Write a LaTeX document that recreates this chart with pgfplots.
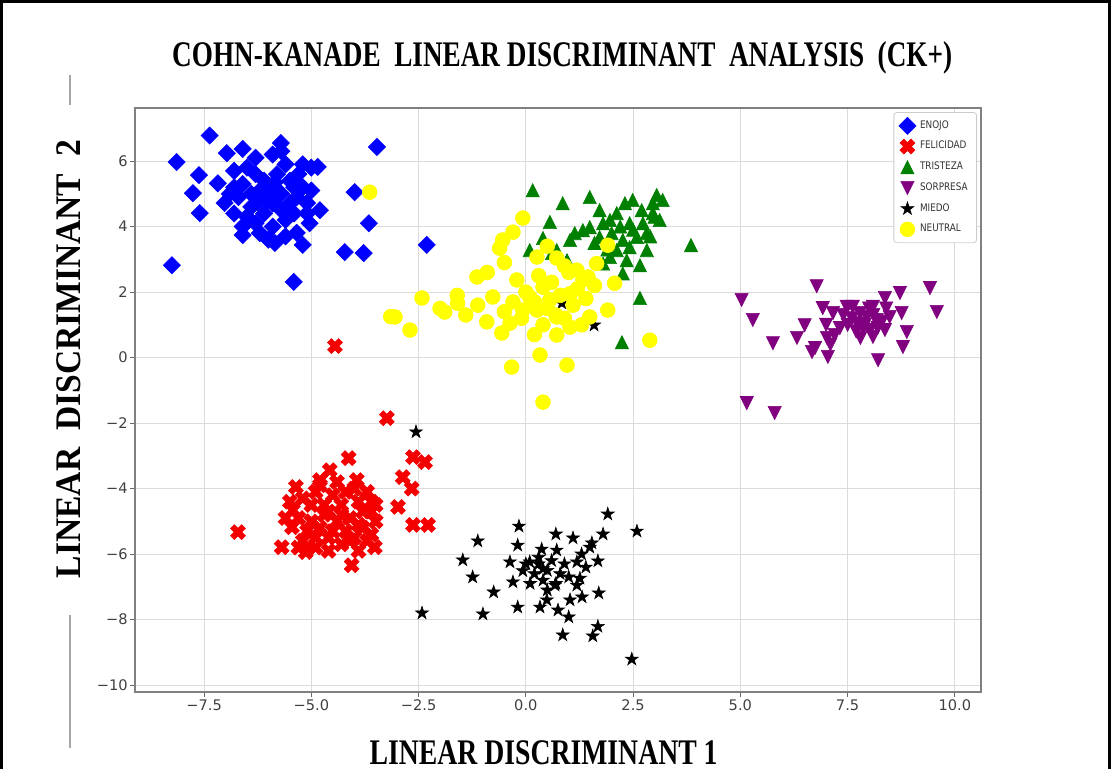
\documentclass[border=0pt]{standalone}
\usepackage{fontspec}
\setmainfont{Liberation Serif}
\newfontfamily\tickfont{DejaVu Sans}
\newfontfamily\legfont[FakeStretch=0.85]{DejaVu Sans}
\usepackage{graphicx}
\usepackage{pgfplots}
\usepackage{pgfplotstable}
\pgfplotsset{compat=1.18}

\definecolor{cblue}{RGB}{0,0,255}
\definecolor{cred}{RGB}{245,0,0}
\definecolor{cgreen}{RGB}{0,128,0}
\definecolor{cpurple}{RGB}{128,0,128}
\definecolor{cyellow}{RGB}{255,255,0}

% matplotlib-like filled markers
\pgfdeclareplotmark{Dmark}{%
  \pgfpathmoveto{\pgfqpoint{0pt}{\pgfplotmarksize}}%
  \pgfpathlineto{\pgfqpoint{\pgfplotmarksize}{0pt}}%
  \pgfpathlineto{\pgfqpoint{0pt}{-\pgfplotmarksize}}%
  \pgfpathlineto{\pgfqpoint{-\pgfplotmarksize}{0pt}}%
  \pgfpathclose\pgfusepathqfillstroke}
\pgfdeclareplotmark{Xfill}{%
  \pgfpathmoveto{\pgfqpoint{0pt}{0.495\pgfplotmarksize}}%
  \pgfpathlineto{\pgfqpoint{-0.46\pgfplotmarksize}{0.955\pgfplotmarksize}}%
  \pgfpathlineto{\pgfqpoint{-0.955\pgfplotmarksize}{0.46\pgfplotmarksize}}%
  \pgfpathlineto{\pgfqpoint{-0.495\pgfplotmarksize}{0pt}}%
  \pgfpathlineto{\pgfqpoint{-0.955\pgfplotmarksize}{-0.46\pgfplotmarksize}}%
  \pgfpathlineto{\pgfqpoint{-0.46\pgfplotmarksize}{-0.955\pgfplotmarksize}}%
  \pgfpathlineto{\pgfqpoint{0pt}{-0.495\pgfplotmarksize}}%
  \pgfpathlineto{\pgfqpoint{0.46\pgfplotmarksize}{-0.955\pgfplotmarksize}}%
  \pgfpathlineto{\pgfqpoint{0.955\pgfplotmarksize}{-0.46\pgfplotmarksize}}%
  \pgfpathlineto{\pgfqpoint{0.495\pgfplotmarksize}{0pt}}%
  \pgfpathlineto{\pgfqpoint{0.955\pgfplotmarksize}{0.46\pgfplotmarksize}}%
  \pgfpathlineto{\pgfqpoint{0.46\pgfplotmarksize}{0.955\pgfplotmarksize}}%
  \pgfpathclose\pgfusepathqfillstroke}
\pgfdeclareplotmark{triup}{%
  \pgfpathmoveto{\pgfqpoint{0pt}{\pgfplotmarksize}}%
  \pgfpathlineto{\pgfqpoint{-\pgfplotmarksize}{-\pgfplotmarksize}}%
  \pgfpathlineto{\pgfqpoint{\pgfplotmarksize}{-\pgfplotmarksize}}%
  \pgfpathclose\pgfusepathqfillstroke}
\pgfdeclareplotmark{tridown}{%
  \pgfpathmoveto{\pgfqpoint{0pt}{-\pgfplotmarksize}}%
  \pgfpathlineto{\pgfqpoint{-\pgfplotmarksize}{\pgfplotmarksize}}%
  \pgfpathlineto{\pgfqpoint{\pgfplotmarksize}{\pgfplotmarksize}}%
  \pgfpathclose\pgfusepathqfillstroke}
\pgfdeclareplotmark{starfill}{%
  \pgfpathmoveto{\pgfqpoint{0pt}{\pgfplotmarksize}}%
  \pgfpathlineto{\pgfqpoint{-0.2245\pgfplotmarksize}{0.309\pgfplotmarksize}}%
  \pgfpathlineto{\pgfqpoint{-0.9511\pgfplotmarksize}{0.309\pgfplotmarksize}}%
  \pgfpathlineto{\pgfqpoint{-0.3633\pgfplotmarksize}{-0.118\pgfplotmarksize}}%
  \pgfpathlineto{\pgfqpoint{-0.5878\pgfplotmarksize}{-0.809\pgfplotmarksize}}%
  \pgfpathlineto{\pgfqpoint{0pt}{-0.382\pgfplotmarksize}}%
  \pgfpathlineto{\pgfqpoint{0.5878\pgfplotmarksize}{-0.809\pgfplotmarksize}}%
  \pgfpathlineto{\pgfqpoint{0.3633\pgfplotmarksize}{-0.118\pgfplotmarksize}}%
  \pgfpathlineto{\pgfqpoint{0.9511\pgfplotmarksize}{0.309\pgfplotmarksize}}%
  \pgfpathlineto{\pgfqpoint{0.2245\pgfplotmarksize}{0.309\pgfplotmarksize}}%
  \pgfpathclose\pgfusepathqfillstroke}

\pgfplotstableread{
x y
-7.37 6.78
-8.14 5.97
-8.25 2.82
-3.47 6.43
-5.71 6.55
-6.60 6.37
-6.97 6.24
-4.85 5.82
-7.62 5.57
-7.76 5.02
-7.60 4.41
-7.02 4.72
-7.18 5.32
-3.99 5.05
-3.66 4.10
-2.31 3.44
-4.22 3.22
-3.78 3.19
-5.41 2.31
-6.60 3.74
-5.85 3.50
-5.20 3.44
-5.04 4.10
-5.34 3.81
-5.10 4.72
-5.34 4.90
-6.5 5.8
-6.3 5.6
-6.1 5.4
-5.9 5.2
-5.7 5.0
-5.5 4.7
-5.4 4.4
-6.6 5.3
-6.8 5.7
-5.6 5.9
-5.8 5.6
-6.0 5.2
-6.2 4.9
-6.4 4.6
-6.5 4.3
-6.3 4.1
-6.1 4.4
-5.9 4.7
-5.7 4.5
-6.0 4.8
-6.2 5.1
-5.8 4.9
-6.4 5.0
-6.7 4.9
-5.5 5.4
-5.3 5.6
-5.2 5.9
-5.0 5.8
-6.9 5.0
-6.8 4.4
-5.6 4.2
-5.9 4.0
-6.2 3.8
-6.0 3.6
-5.6 3.7
-5.1 4.4
-6.6 4.0
-5.4 5.2
-6.3 6.1
-5.9 6.2
-5.7 6.3
-5.0 5.1
-4.8 4.5
-5.2 5.2
-6.8 5.2
-6.05 5.0
-5.95 4.9
-6.15 5.15
-5.85 5.35
-6.25 4.75
}\enojo

\pgfplotstableread{
x y
-4.45 0.35
-3.24 -1.85
-6.71 -5.33
-4.13 -3.07
-4.57 -3.44
-3.94 -3.74
-5.36 -3.95
-4.80 -3.74
-2.63 -3.04
-2.35 -3.19
-2.87 -3.65
-2.66 -4.00
-2.98 -4.56
-2.63 -5.11
-2.28 -5.11
-5.69 -5.79
-5.13 -5.94
-4.06 -6.34
-3.52 -5.79
-5.45 -5.18
-5.43 -4.66
-5.2 -4.3
-5.0 -4.5
-4.9 -4.1
-4.7 -4.8
-4.5 -4.2
-4.3 -4.5
-4.1 -4.9
-3.9 -4.4
-3.7 -4.1
-3.6 -4.7
-3.8 -5.2
-4.0 -5.5
-4.2 -5.3
-4.4 -5.0
-4.6 -5.5
-4.8 -5.2
-5.0 -5.0
-5.2 -5.6
-4.9 -5.8
-4.6 -5.9
-4.3 -5.7
-3.9 -5.9
-3.6 -5.4
-3.5 -5.0
-3.6 -4.4
-4.0 -4.0
-4.4 -3.8
-4.8 -3.9
-5.3 -4.9
-5.5 -4.4
-4.7 -4.5
-4.2 -4.1
-3.8 -4.7
-4.1 -5.6
-4.5 -5.3
-5.1 -5.3
-3.7 -5.6
-4.3 -4.8
-4.9 -5.5
-3.9 -5.1
-4.6 -4.7
-3.5 -4.5
-5.6 -4.9
-5.3 -5.8
}\felicidad

\pgfplotstableread{
x y
0.16 5.11
0.86 4.71
1.49 4.90
0.56 4.14
0.40 3.65
0.96 2.97
0.09 3.28
0.61 3.19
1.14 3.80
1.33 3.89
1.72 4.50
1.96 4.20
2.31 4.71
2.49 4.81
3.05 4.96
3.19 4.81
2.96 4.41
3.12 4.20
2.82 3.80
2.59 3.68
2.26 3.59
2.12 3.28
2.35 2.97
2.66 2.82
2.26 2.57
1.80 2.87
2.66 1.82
2.24 0.47
3.85 3.43
1.72 3.68
1.49 3.98
1.80 4.10
2.12 4.41
2.42 4.10
2.73 4.10
1.03 3.59
0.72 3.28
1.96 3.07
2.96 4.71
2.42 3.37
2.82 3.28
2.0 3.8
2.2 4.0
1.6 3.5
2.5 3.9
2.9 3.7
3.0 4.3
2.7 4.5
1.9 3.3
}\tristeza

\pgfplotstableread{
x y
5.03 1.76
5.29 1.15
5.76 0.44
5.15 -1.39
5.80 -1.69
6.32 0.60
6.50 0.99
6.78 2.18
6.67 0.17
7.04 0.02
6.92 1.51
7.02 0.60
7.16 1.36
7.32 0.90
7.48 1.55
7.62 1.55
7.72 1.05
7.95 1.24
8.09 1.55
8.37 1.82
8.72 1.97
8.76 1.36
8.88 0.78
8.79 0.32
8.21 -0.08
9.42 2.12
9.58 1.39
8.37 0.84
8.09 0.63
7.86 0.90
8.18 1.15
8.48 1.24
7.79 1.36
8.02 0.84
7.20 0.69
6.74 0.29
7.7 0.8
7.9 1.0
8.1 1.3
8.3 1.1
7.6 1.2
8.0 1.5
7.5 1.0
8.2 0.9
7.4 1.3
7.8 0.6
8.4 1.5
7.0 1.0
7.1 0.4
}\sorpresa

\pgfplotstableread{
x y
1.91 -4.78
2.59 -5.30
-0.16 -5.15
-1.12 -5.60
-1.47 -6.18
-1.24 -6.70
-0.75 -7.16
-1.00 -7.83
-0.19 -7.62
-0.30 -6.85
-0.37 -6.24
-0.19 -5.73
0.70 -5.39
1.10 -5.51
1.80 -5.39
1.54 -5.66
1.68 -6.21
1.70 -7.19
1.68 -8.21
1.56 -8.50
0.86 -8.47
1.00 -7.92
0.75 -7.71
0.33 -7.62
0.49 -7.40
1.03 -7.40
1.31 -7.31
2.47 -9.21
1.26 -6.74
1.19 -6.95
0.68 -6.95
0.72 -5.88
0.37 -5.85
1.19 -6.24
1.49 -5.79
-0.07 -6.51
0.09 -6.24
0.3 -6.3
0.5 -6.5
0.2 -6.6
0.4 -6.8
0.6 -6.2
0.8 -6.6
0.1 -6.9
0.7 -6.9
0.9 -6.3
0.3 -6.1
0.5 -7.1
1.0 -6.7
1.4 -6.4
1.3 -6.0
0.0 -6.3
0.4 -6.45
-2.42 -7.80
-2.56 -2.27
1.59 0.99
0.84 1.66
}\miedo

\pgfplotstableread{
x y
-0.07 4.26
-0.30 3.83
-0.54 3.59
-0.61 3.34
1.91 3.43
0.26 3.07
0.72 3.04
1.19 2.67
1.65 2.87
1.45 2.46
2.07 2.27
-1.14 2.46
-0.21 2.37
-2.42 1.82
-3.05 1.24
-2.70 0.84
-1.89 1.39
-1.59 1.66
-1.12 1.60
-0.77 1.85
-0.91 1.09
-0.56 0.75
-0.37 1.05
0.33 0.08
-0.33 -0.29
0.96 -0.23
0.40 -1.36
2.89 0.53
1.91 1.45
1.49 1.24
1.03 0.93
0.72 0.69
0.26 1.45
0.09 1.85
0.56 1.76
0.40 2.15
0.72 1.24
-0.07 1.45
1.03 1.95
1.33 2.37
-3.64 5.05
0.2 1.7
0.5 1.5
0.8 1.9
1.1 1.6
0.4 1.0
0.9 1.2
0.6 2.3
1.2 2.1
0.0 2.0
-0.3 1.7
-0.5 1.4
1.4 1.8
0.7 1.3
0.3 2.5
1.6 2.2
1.0 2.6
-0.1 1.2
0.2 0.7
1.3 1.0
-1.4 1.3
-2.0 1.5
-3.15 1.25
-1.6 1.9
-0.9 2.6
-0.5 2.9
0.5 3.4
0.9 2.8
}\neutral

\begin{document}
\begin{tikzpicture}
\useasboundingbox (0,0) rectangle (555.5pt,384.5pt);
\begin{axis}[
    at={(67.5pt,38.5pt)}, anchor=south west,
    scale only axis,
    width=423pt, height=292pt,
    xmin=-9.11, xmax=10.61,
    ymin=-10.21, ymax=7.62,
    xtick={-7.5,-5,-2.5,0,2.5,5,7.5,10},
    xticklabels={−7.5,−5.0,−2.5,0.0,2.5,5.0,7.5,10.0},
    ytick={-10,-8,-6,-4,-2,0,2,4,6},
    yticklabels={−10,−8,−6,−4,−2,0,2,4,6},
    tick pos=left, tick align=outside,
    major tick length=2.5pt,
    major tick style={black!60, line width=0.5pt},
    ticklabel style={font=\tickfont\fontsize{7.3}{8}\selectfont, text=black!75, inner sep=1pt},
    axis line style={black!50, line width=0.6pt},
    grid=major,
    grid style={black!14, line width=0.5pt},
    every axis title shift=0pt,
    title={\resizebox{390pt}{\height}{\fontsize{18}{20}\selectfont\bfseries COHN-KANADE\ \ LINEAR DISCRIMINANT\ \ ANALYSIS\ \ (CK+)}},
    title style={at={(axis description cs:0.505,1.0702)}, anchor=base, inner sep=0pt},
    xlabel={\resizebox{174pt}{\height}{\fontsize{18}{20}\selectfont\bfseries LINEAR DISCRIMINANT 1}},
    xlabel style={at={(axis description cs:0.483,-0.1233)}, anchor=base, inner sep=0pt},
    ylabel={\resizebox{219pt}{\height}{\fontsize{18}{20}\selectfont\bfseries LINEAR\ \ DISCRIMINANT\ \ 2}},
    ylabel style={at={(axis description cs:-0.065,0.570)}, anchor=base, inner sep=0pt},
    legend style={at={(0.9953,0.993)}, anchor=north east,
        draw=black!20, rounded corners=1.5pt, fill=white,
        font=\legfont\fontsize{5.2}{6}\selectfont, text=black!80,
        row sep=1.0pt, inner xsep=2.5pt, inner ysep=2pt,
        /tikz/every odd column/.append style={column sep=0pt}},
    legend cell align=left,
    legend image code/.code={\draw[mark repeat=2,mark phase=2,#1] plot coordinates {(0pt,0pt) (5pt,0pt) (12pt,0pt)};},
    mark options={solid, line width=0.3pt},
]
\addplot[only marks, color=cblue, mark=Dmark, mark size=4.3pt] table {\enojo};
\addplot[only marks, color=cred, mark=Xfill, mark size=3.9pt] table {\felicidad};
\addplot[only marks, color=cgreen, mark=triup, mark size=3.3pt] table {\tristeza};
\addplot[only marks, color=cpurple, mark=tridown, mark size=3.3pt] table {\sorpresa};
\addplot[only marks, color=black, mark=starfill, mark size=3.4pt] table {\miedo};
\addplot[only marks, color=cyellow, mark=*, mark size=3.7pt] table {\neutral};
\legend{ENOJO,FELICIDAD,TRISTEZA,SORPRESA,MIEDO,NEUTRAL}
\end{axis}
\draw[line width=1.3pt] (0.65pt,0pt) -- (0.65pt,383.85pt) -- (554.85pt,383.85pt) -- (554.85pt,0pt);
\draw[black!35, line width=0.6pt] (35pt,332pt) -- (35pt,347pt);
\draw[black!35, line width=0.6pt] (35pt,10.5pt) -- (35pt,77pt);
\end{tikzpicture}
\end{document}
